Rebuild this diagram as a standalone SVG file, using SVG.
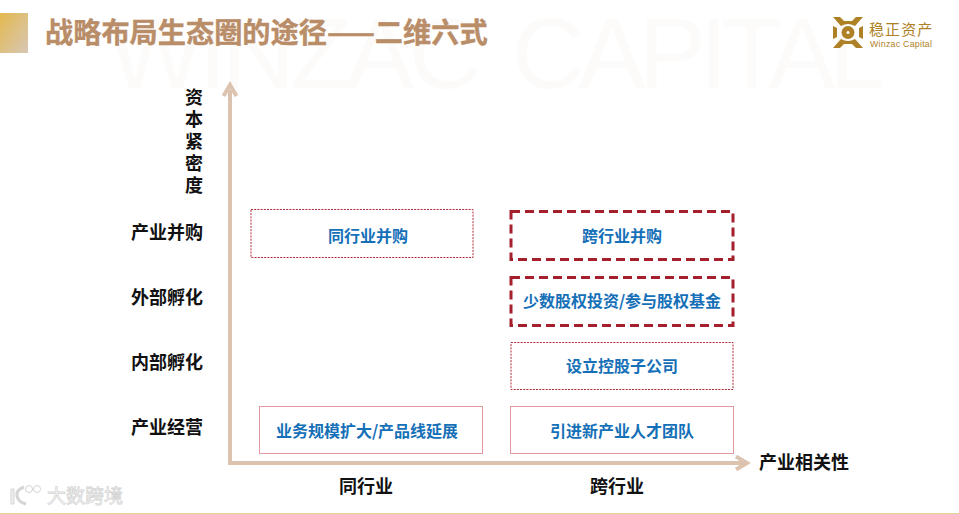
<svg xmlns="http://www.w3.org/2000/svg" width="959" height="514" viewBox="0 0 959 514">
<style>
text{font-family:"Noto Sans CJK SC","Liberation Sans",sans-serif}
.ax{font-size:18px;font-weight:700;fill:#111;text-anchor:middle}
.lb{font-size:16px;font-weight:700;fill:#1570b8;text-anchor:middle}
.n{fill:#fff}
.thin{stroke:#b02a37;stroke-width:1;stroke-dasharray:2 1.2}
.thick{stroke:#a51f2d;stroke-width:3;stroke-dasharray:9 5}
.solid{stroke:#e39a9e;stroke-width:1}
.axis{fill:none;stroke:#dcc3b0;stroke-width:4}
.mark{font-size:101px;fill:#fcfbfa;font-family:"Liberation Sans",sans-serif}
</style>
<defs>
<linearGradient id="g" x1="0" y1="0" x2="1" y2="1"><stop offset="0" stop-color="#e4b94f"/><stop offset="1" stop-color="#d7c7b5"/></linearGradient>
</defs>
<rect width="959" height="514" fill="#fff"/>
<text class="mark" x="108" y="88" textLength="374">WINZAC</text>
<text class="mark" x="512" y="88" textLength="373">CAPITAL</text>
<rect x="0" y="13" width="28" height="40" fill="url(#g)"/>
<text x="45" y="43" font-size="28.200" font-weight="700" fill="#b98d68" stroke="#b98d68" stroke-width=".4">战略布局生态圈的途径——二维六式</text>
<g id="logo" fill="#ae8126">
<path d="M833 17h7l4 4h8l4-4h7l-8 9q-7-4-14 0zM833 48h7l4-4h8l4 4h7l-8-9q-7 4-14 0z"/>
<path d="M833 26l4 2v9l-4 2zM863 26l-4 2v9l4 2z"/>
<circle cx="848" cy="32.500" r="6.500"/><circle cx="848" cy="32.500" r="1.500" fill="#fff"/>
<text x="869" y="35" font-size="15" font-weight="400" letter-spacing="1.100">稳正资产</text>
<text x="870" y="47" font-size="8.800" font-weight="400" letter-spacing=".25" style="font-family:'Liberation Sans',sans-serif">Winzac Capital</text>
</g>
<g id="connectors">
<path class="axis" d="M230 90V463H744"/>
<path class="axis" d="M223.500 96L230 85L236.500 96M736 456.500L747 463L736 469.500"/>
</g>
<g id="y-title"><text class="ax" x="194" y="104"><tspan x="194">资</tspan><tspan x="194" dy="22">本</tspan><tspan x="194" dy="22">紧</tspan><tspan x="194" dy="22">密</tspan><tspan x="194" dy="22">度</tspan></text></g>
<g id="y-1"><text class="ax" x="167" y="239">产业并购</text></g>
<g id="y-2"><text class="ax" x="167" y="304">外部孵化</text></g>
<g id="y-3"><text class="ax" x="167" y="369">内部孵化</text></g>
<g id="y-4"><text class="ax" x="167" y="434">产业经营</text></g>
<g id="x-title"><text class="ax" x="804" y="469">产业相关性</text></g>
<g id="x-1"><text class="ax" x="366" y="493">同行业</text></g>
<g id="x-2"><text class="ax" x="617" y="493">跨行业</text></g>
<g id="n1"><rect class="n thin" x="251" y="209.500" width="222" height="48"/><text class="lb" x="368" y="242">同行业并购</text></g>
<g id="n2"><rect class="n thick" x="511" y="211.500" width="222" height="48"/><text class="lb" x="622" y="242">跨行业并购</text></g>
<g id="n3"><rect class="n thick" x="511" y="277.500" width="222" height="48"/><text class="lb" x="622" y="307">少数股权投资/参与股权基金</text></g>
<g id="n4"><rect class="n thin" x="511" y="342.500" width="222" height="47"/><text class="lb" x="622" y="372">设立控股子公司</text></g>
<g id="n5"><rect class="n solid" x="259.500" y="406.500" width="223" height="47"/><text class="lb" x="367" y="437">业务规模扩大/产品线延展</text></g>
<g id="n6"><rect class="n solid" x="510.500" y="406.500" width="223" height="47"/><text class="lb" x="622" y="437">引进新产业人才团队</text></g>
<g id="wm" fill="#fff">
<path d="M11 489h3v15h-3z" stroke="#d5d5d5" fill="#eee"/>
<path d="M24 487q-8 3-7 9t9 8" fill="none" stroke="#d5d5d5" stroke-width="3"/>
<circle cx="29" cy="489" r="3.500" fill="none" stroke="#d5d5d5"/><circle cx="37" cy="489" r="3.500" fill="none" stroke="#d5d5d5"/>
<text x="47" y="503" font-size="19" font-weight="400" stroke="#d6d6d6" stroke-width=".8">大数跨境</text>
</g>
<rect x="0" y="513" width="959" height="1" fill="#dcd49a"/>
</svg>
